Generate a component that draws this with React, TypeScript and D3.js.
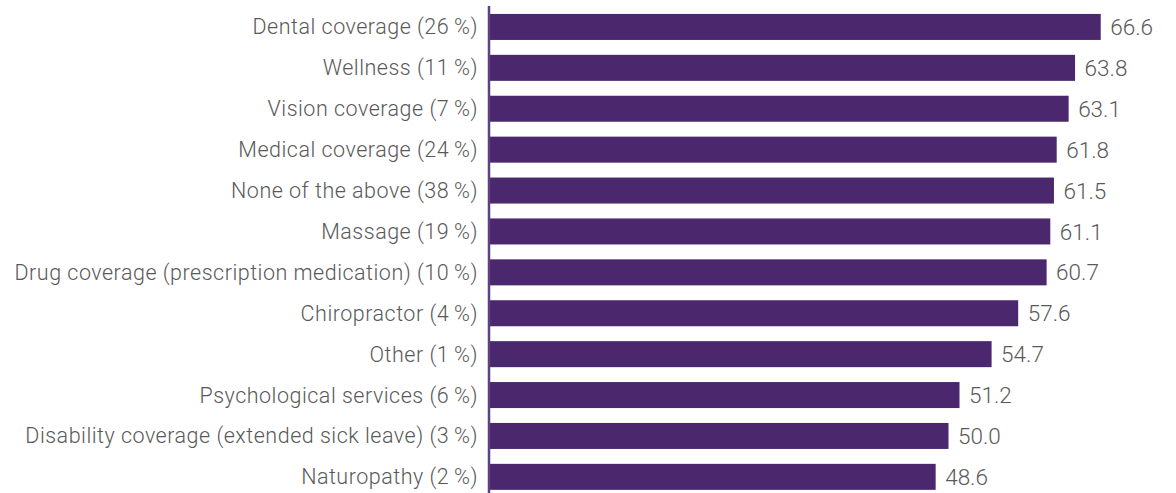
import React from "react";
import * as d3 from "d3";

const categories = [
  "Dental coverage (26%)",
  "Wellness (11%)",
  "Vision coverage (7%)",
  "Medical coverage (24%)",
  "None of the above (38%)",
  "Massage (19%)",
  "Drug coverage (prescription medication) (10%)",
  "Chiropractor (4%)",
  "Other (1%)",
  "Psychological services (6%)",
  "Disability coverage (extended sick leave) (3%)",
  "Naturopathy (2%)",
];
const values = [66.6, 63.8, 63.1, 61.8, 61.5, 61.1, 60.7, 57.6, 54.7, 51.2, 50.0, 48.6];

const W = 1176;
const H = 493;

export default function App() {
  const x = d3.scaleLinear().domain([0, 70]).range([490, 490 + 70 * 9.17]);
  const y = d3
    .scaleBand<string>()
    .domain(categories)
    .range([6.5, 497.3])
    .paddingInner(0.364)
    .paddingOuter(0.182);
  const font = "Roboto, 'Helvetica Neue', Arial, sans-serif";
  return (
    <svg
      width={W}
      height={H}
      style={{ position: "absolute", left: 0, top: 0, display: "block" }}
    >
      {categories.map((c, i) => {
        const yc = (y(c) as number) + y.bandwidth() / 2;
        return (
          <g key={c}>
            <rect
              x={x(0)}
              y={y(c)}
              width={x(values[i]) - x(0)}
              height={y.bandwidth()}
              fill="#4b286d"
            />
            <text
              x={478}
              y={yc}
              dy="0.35em"
              textAnchor="end"
              fontFamily={font}
              fontWeight={300}
              fontSize={21.5}
              letterSpacing={0.5}
              fill="#595959"
            >
              {c.replace("%", "\u2009%")}
            </text>
            <text
              x={x(values[i]) + 9.5}
              y={yc}
              dy="0.36em"
              fontFamily={font}
              fontWeight={300}
              fontSize={22.5}
              fill="#595959"
            >
              {values[i].toFixed(1)}
            </text>
          </g>
        );
      })}
      <line x1={489} x2={489} y1={6} y2={H} stroke="#5e4180" strokeWidth={2.5} />
    </svg>
  );
}
